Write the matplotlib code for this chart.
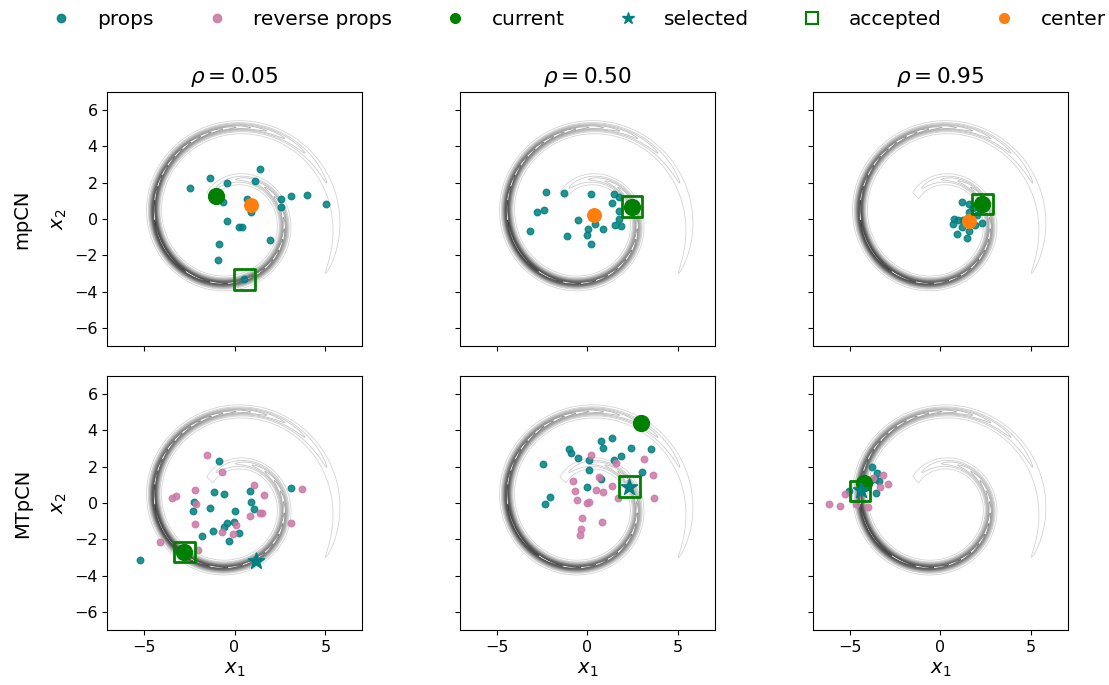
import numpy as np
import matplotlib.pyplot as plt
from matplotlib.lines import Line2D
from matplotlib.colors import Normalize

rhos = [0.05, 0.50, 0.95]
methods = ["mpCN", "MTpCN"]

# mpCN panels
mp_props = [
    [(1.39, 2.74), (-1.37, 2.24), (-2.46, 1.70), (-0.44, 1.98), (1.15, 2.09), (-0.63, 0.94),
     (0.69, 1.07), (0.93, 0.39), (2.56, 1.11), (3.10, 1.24), (4.00, 1.33), (5.04, 0.81),
     (2.54, 0.63), (-0.44, -0.13), (0.23, -0.44), (0.41, -0.46), (1.95, -1.15), (-0.83, -1.41),
     (-0.92, -2.28), (0.54, -3.33)],
    [(-2.28, 1.48), (-1.31, 1.41), (0.19, 1.35), (1.48, 1.35), (1.72, 1.20), (1.35, 0.87),
     (-2.80, 0.39), (-2.39, 0.50), (1.74, 0.46), (1.76, 0.02), (-0.50, -0.07), (0.43, -0.26),
     (1.52, -0.31), (1.87, -0.41), (0.04, -0.54), (0.83, -0.54), (-3.15, -0.69), (-1.13, -0.94),
     (-0.04, -0.91), (0.17, -1.37)],
    [(1.17, 0.91), (1.59, 0.81), (1.56, 0.39), (0.74, 0.00), (0.70, -0.26), (1.17, -0.44),
     (0.89, -0.83), (1.59, -0.67), (1.44, -1.04), (1.93, -0.35), (2.31, -0.22), (2.00, 0.20),
     (2.19, 0.48), (0.98, -0.04), (1.26, -0.07), (1.80, 0.60), (2.10, 0.95)],
]
mp_current = [(-1.03, 1.26), (2.46, 0.67), (2.31, 0.81)]
mp_center = [(0.91, 0.74), (0.35, 0.20), (1.59, -0.11)]
mp_accepted = [(0.54, -3.33), (2.46, 0.67), (2.31, 0.81)]

# MTpCN panels
mt_props = [
    [(-0.87, 2.33), (-1.13, 0.59), (-0.56, 0.50), (-2.24, 0.07), (-2.31, -0.44), (-1.33, -0.26),
     (0.02, -0.43), (0.85, 0.69), (0.93, 0.07), (1.06, -0.35), (3.11, 0.81), (-0.02, -1.02),
     (-0.41, -1.07), (-0.57, -1.30), (0.24, -1.63), (-1.17, -1.52), (-1.81, -1.83), (-0.31, -2.09),
     (-5.20, -3.15), (1.17, -3.20)],
    [(-2.44, 2.13), (-2.04, 0.35), (-2.33, -0.06), (-1.02, 3.00), (-0.93, 2.78), (-0.52, 2.46),
     (0.06, 2.37), (0.11, 1.82), (0.74, 3.41), (0.87, 3.04), (1.37, 3.61), (1.48, 2.37),
     (1.83, 2.59), (2.41, 3.04), (3.50, 3.00), (2.98, 1.69), (0.74, 1.31), (-0.02, 0.89),
     (2.30, 0.91)],
    [(-3.76, 1.98), (-3.52, 1.65), (-3.37, 1.24), (-3.63, 1.32), (-3.57, 0.57), (-5.04, 0.69),
     (-3.90, 1.20), (-4.39, 0.72)],
]
mt_reverse = [
    [(-1.54, 2.67), (-0.70, 1.72), (-2.17, 0.70), (-3.46, 0.26), (-3.24, 0.37), (-2.13, -0.04),
     (-2.15, -1.13), (1.06, 1.00), (1.63, 0.46), (0.85, -0.70), (1.41, -0.52), (1.50, -0.54),
     (0.07, -1.22), (-0.70, -1.61), (-0.11, -1.69), (3.11, -1.09), (3.70, 0.78), (-4.13, -2.15),
     (-2.02, -2.57)],
    [(0.22, 2.67), (1.57, 2.22), (3.13, 2.41), (3.63, 1.57), (3.67, 0.26), (-0.81, 1.22),
     (0.63, 1.44), (-0.67, 0.65), (0.46, 0.70), (0.85, 0.61), (1.33, 0.96), (-0.56, 0.15),
     (0.00, -0.02), (0.07, 0.06), (1.70, 0.26), (-0.28, -0.80), (0.78, -1.06), (-0.35, -1.41),
     (-0.43, -1.74)],
    [(-6.15, -0.04), (-5.52, -0.17), (-4.65, -0.04), (-4.00, -0.24), (-5.28, 0.50), (-3.31, 0.91),
     (-2.87, 1.06), (-3.15, 1.57), (-3.74, 1.37)],
]
mt_current = [(-2.76, -2.70), (2.96, 4.43), (-4.20, 1.13)]
mt_selected = [(1.17, -3.20), (2.30, 0.91), (-4.39, 0.72)]
mt_accepted = [(-2.76, -2.70), (2.30, 0.91), (-4.43, 0.67)]

# spiral target density (background)
g = np.linspace(-7, 7, 600)
X, Y = np.meshgrid(g, g)
R = np.hypot(X + 0.13, Y - 0.03)
phi = np.arctan2(Y - 0.03, X + 0.13)
Z = np.zeros_like(X)
for k in range(-1, 3):
    t = -phi + 2 * np.pi * k
    ok = (t > -2.35) & (t < 8.3)
    r_t = 2.83 + 0.46 * t
    sw = np.where(t < 2.8, 2.1, 1.35)
    w = np.exp(-(t - 2.8) ** 2 / (2 * sw ** 2))
    Z += np.where(ok, w * np.exp(-(R - r_t) ** 2 / (2 * 0.14 ** 2)), 0)
Z /= Z.max()

fig, axes = plt.subplots(2, 3, figsize=(11.09, 6.85), dpi=100, sharex=True, sharey=True)
fig.subplots_adjust(left=0.0965, right=0.963, top=0.866, bottom=0.080, wspace=0.384, hspace=0.118)

teal = "teal"
pink = "#cc79a7"
levels = np.linspace(0.012, 0.97, 18)

for j in range(3):
    for i in range(2):
        ax = axes[i, j]
        ax.contour(X, Y, Z, levels=levels, cmap="Greys", norm=Normalize(-0.5, 1.35),
                   linewidths=0.6, zorder=1)
        ax.set_xlim(-7, 7)
        ax.set_ylim(-7, 7)
        ax.set_aspect("equal")
        ax.set_xticks([-5, 0, 5])
        ax.set_yticks([-6, -4, -2, 0, 2, 4, 6])
        ax.tick_params(labelsize=11.5)

    ax = axes[0, j]
    p = np.array(mp_props[j])
    ax.scatter(p[:, 0], p[:, 1], s=22, color=teal, alpha=0.85, zorder=3)
    ax.scatter(*mp_current[j], s=130, color="green", zorder=4)
    ax.scatter(*mp_center[j], s=95, color="C1", zorder=5)
    ax.scatter(*mp_accepted[j], s=220, marker="s", facecolors="none",
               edgecolors="green", linewidths=2, zorder=6)
    ax.set_title(r"$\rho = %.2f$" % rhos[j], fontsize=15.5)

    ax = axes[1, j]
    p = np.array(mt_props[j])
    q = np.array(mt_reverse[j])
    ax.scatter(p[:, 0], p[:, 1], s=22, color=teal, alpha=0.85, zorder=3)
    ax.scatter(q[:, 0], q[:, 1], s=22, color=pink, alpha=0.85, zorder=3)
    ax.scatter(*mt_current[j], s=130, color="green", zorder=4)
    ax.scatter(*mt_selected[j], s=150, marker="*", color=teal, zorder=5)
    ax.scatter(*mt_accepted[j], s=220, marker="s", facecolors="none",
               edgecolors="green", linewidths=2, zorder=6)
    ax.set_xlabel(r"$x_1$", fontsize=14)

for i in range(2):
    axes[i, 0].set_ylabel(r"$x_2$", fontsize=14)
    fig.text(0.02, 1 - (219 if i == 0 else 503) / 685, methods[i], rotation=90,
             fontsize=14, ha="center", va="center")

handles = [
    Line2D([], [], ls="", marker="o", color=teal, alpha=0.9, markersize=6),
    Line2D([], [], ls="", marker="o", color=pink, alpha=0.9, markersize=6),
    Line2D([], [], ls="", marker="o", color="green", markersize=7),
    Line2D([], [], ls="", marker="*", color=teal, markersize=9),
    Line2D([], [], ls="", marker="s", markerfacecolor="none", markeredgecolor="green",
           markeredgewidth=1.5, markersize=9),
    Line2D([], [], ls="", marker="o", color="C1", markersize=7),
]
labels = ["props", "reverse props", "current", "selected", "accepted", "center"]
fig.legend(handles, labels, loc="upper center", bbox_to_anchor=(0.517, 1.012), ncol=6,
           frameon=False, fontsize=14.5, columnspacing=2.13)

plt.savefig("out.png", dpi=100)
